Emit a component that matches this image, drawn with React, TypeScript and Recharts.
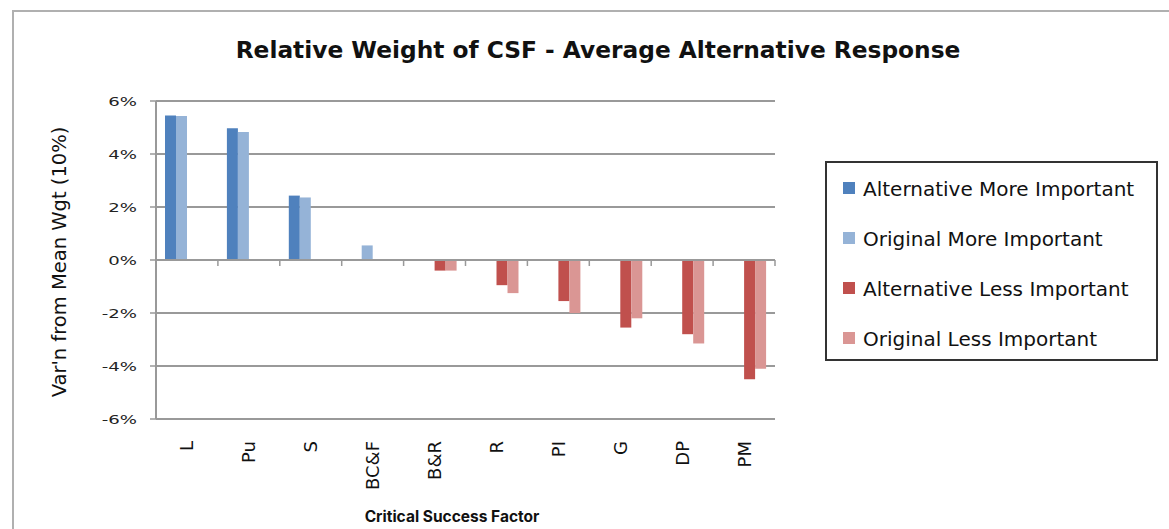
import React from "react";
import { Bar, BarChart, CartesianGrid, Legend, ReferenceLine, XAxis, YAxis } from "recharts";

const categories = ["L", "Pu", "S", "BC&F", "B&R", "R", "PI", "G", "DP", "PM"];
const altMore = [5.45, 4.97, 2.43, null, null, null, null, null, null, null];
const origMore = [5.43, 4.83, 2.36, 0.55, null, null, null, null, null, null];
const altLess = [null, null, null, null, -0.4, -0.95, -1.55, -2.55, -2.8, -4.5];
const origLess = [null, null, null, null, -0.4, -1.25, -2.0, -2.2, -3.15, -4.1];
const yTicks = [-6, -4, -2, 0, 2, 4, 6];

const series = [
  { key: "altMore", name: "Alternative More Important", color: "#4F81BD" },
  { key: "origMore", name: "Original More Important", color: "#95B3D7" },
  { key: "altLess", name: "Alternative Less Important", color: "#C0504D" },
  { key: "origLess", name: "Original Less Important", color: "#DA9694" },
];

const data = categories.map((name, i) => ({
  name,
  altMore: altMore[i],
  origMore: origMore[i],
  altLess: altLess[i],
  origLess: origLess[i],
}));

const FONT = "'DejaVu Sans', sans-serif";

const YTick = (props: any) => {
  const { x, y, payload } = props;
  return (
    <text
      transform={`translate(${x},${y}) scale(1.45,1)`}
      textAnchor="end"
      dy="0.36em"
      fontSize={12.5}
      fontFamily={FONT}
      fill="#222"
    >
      {`${payload.value}%`}
    </text>
  );
};

const XTick = (props: any) => {
  const { x, y, payload } = props;
  return (
    <text
      transform={`translate(${x},${y}) rotate(-90)`}
      textAnchor="end"
      dy="0.36em"
      fontSize={18}
      fontFamily={FONT}
      fill="#111"
    >
      {payload.value}
    </text>
  );
};

// zero line with the category separator ticks hanging below it
const ZeroAxis = (props: any) => {
  const { x1, y1, x2 } = props;
  const step = (x2 - x1) / categories.length;
  return (
    <g>
      <line x1={x1} y1={y1} x2={x2} y2={y1} stroke="#999" strokeWidth={2} />
      {categories.map((c, i) => {
        const mx = x1 + step * (i + 1);
        return <line key={c} x1={mx} x2={mx} y1={y1} y2={y1 + 6} stroke="#999" strokeWidth={1.5} />;
      })}
    </g>
  );
};

// legend keeps the series order (recharts would sort it by name)
const LegendBox = () => (
  <div style={{ paddingTop: 1 }}>
    {series.map((s) => (
      <div key={s.key} style={{ display: "flex", alignItems: "center", height: 50, paddingLeft: 16 }}>
        <span style={{ width: 12, height: 12, background: s.color, marginRight: 8, marginTop: -2 }} />
        <span style={{ fontFamily: FONT, fontSize: 20, color: "#111", lineHeight: "50px", whiteSpace: "nowrap" }}>
          {s.name}
        </span>
      </div>
    ))}
  </div>
);

export default function App() {
  return (
    <div style={{ position: "absolute", left: 0, top: 0, width: 1169, height: 529, overflow: "hidden", background: "#fff" }}>
      <div
        style={{
          position: "absolute",
          left: 12,
          top: 10,
          width: 1157,
          height: 519,
          borderLeft: "2px solid #b0b0b0",
          borderTop: "2px solid #b0b0b0",
        }}
      />
      <div
        style={{
          position: "absolute",
          left: 598,
          top: 38,
          transform: "translateX(-50%)",
          fontFamily: FONT,
          fontWeight: "bold",
          fontSize: 23.3,
          lineHeight: "23px",
          whiteSpace: "nowrap",
          color: "#111",
        }}
      >
        Relative Weight of CSF - Average Alternative Response
      </div>
      <div
        style={{
          position: "absolute",
          left: 59,
          top: 262,
          transform: "translate(-50%, -50%) rotate(-90deg)",
          fontFamily: FONT,
          fontSize: 19.5,
          whiteSpace: "nowrap",
          color: "#111",
        }}
      >
        Var'n from Mean Wgt (10%)
      </div>
      <div
        style={{
          position: "absolute",
          left: 452,
          top: 516,
          transform: "translate(-50%, -50%)",
          fontFamily: "Inter, sans-serif",
          fontWeight: "bold",
          fontSize: 15.5,
          whiteSpace: "nowrap",
          color: "#111",
        }}
      >
        Critical Success Factor
      </div>
      <div style={{ position: "absolute", left: 0, top: 0 }}>
        <BarChart
          width={1169}
          height={529}
          data={data}
          margin={{ top: 101, right: 394, bottom: 0, left: 0 }}
          barSize={11}
          barGap={0}
        >
          <CartesianGrid vertical={false} stroke="#999" strokeWidth={2} />
          <XAxis
            dataKey="name"
            height={110}
            axisLine={false}
            tickLine={false}
            tickSize={0}
            tickMargin={22}
            interval={0}
            tick={<XTick />}
          />
          <YAxis
            width={156}
            domain={[-6, 6]}
            ticks={yTicks}
            interval={0}
            axisLine={{ stroke: "#999", strokeWidth: 2 }}
            tickLine={{ stroke: "#999", strokeWidth: 1.5 }}
            tickSize={6}
            tickMargin={13}
            tick={<YTick />}
          />
          <ReferenceLine y={0} shape={ZeroAxis} />
          {series.map((s) => (
            <Bar key={s.key} dataKey={s.key} name={s.name} fill={s.color} isAnimationActive={false} />
          ))}
          <Legend
            layout="horizontal"
            align="center"
            verticalAlign="middle"
            content={<LegendBox />}
            wrapperStyle={{
              left: 825,
              top: 161,
              width: 333,
              height: 200,
              border: "2px solid #333",
              boxSizing: "border-box",
              background: "#fff",
            }}
          />
        </BarChart>
      </div>
    </div>
  );
}
